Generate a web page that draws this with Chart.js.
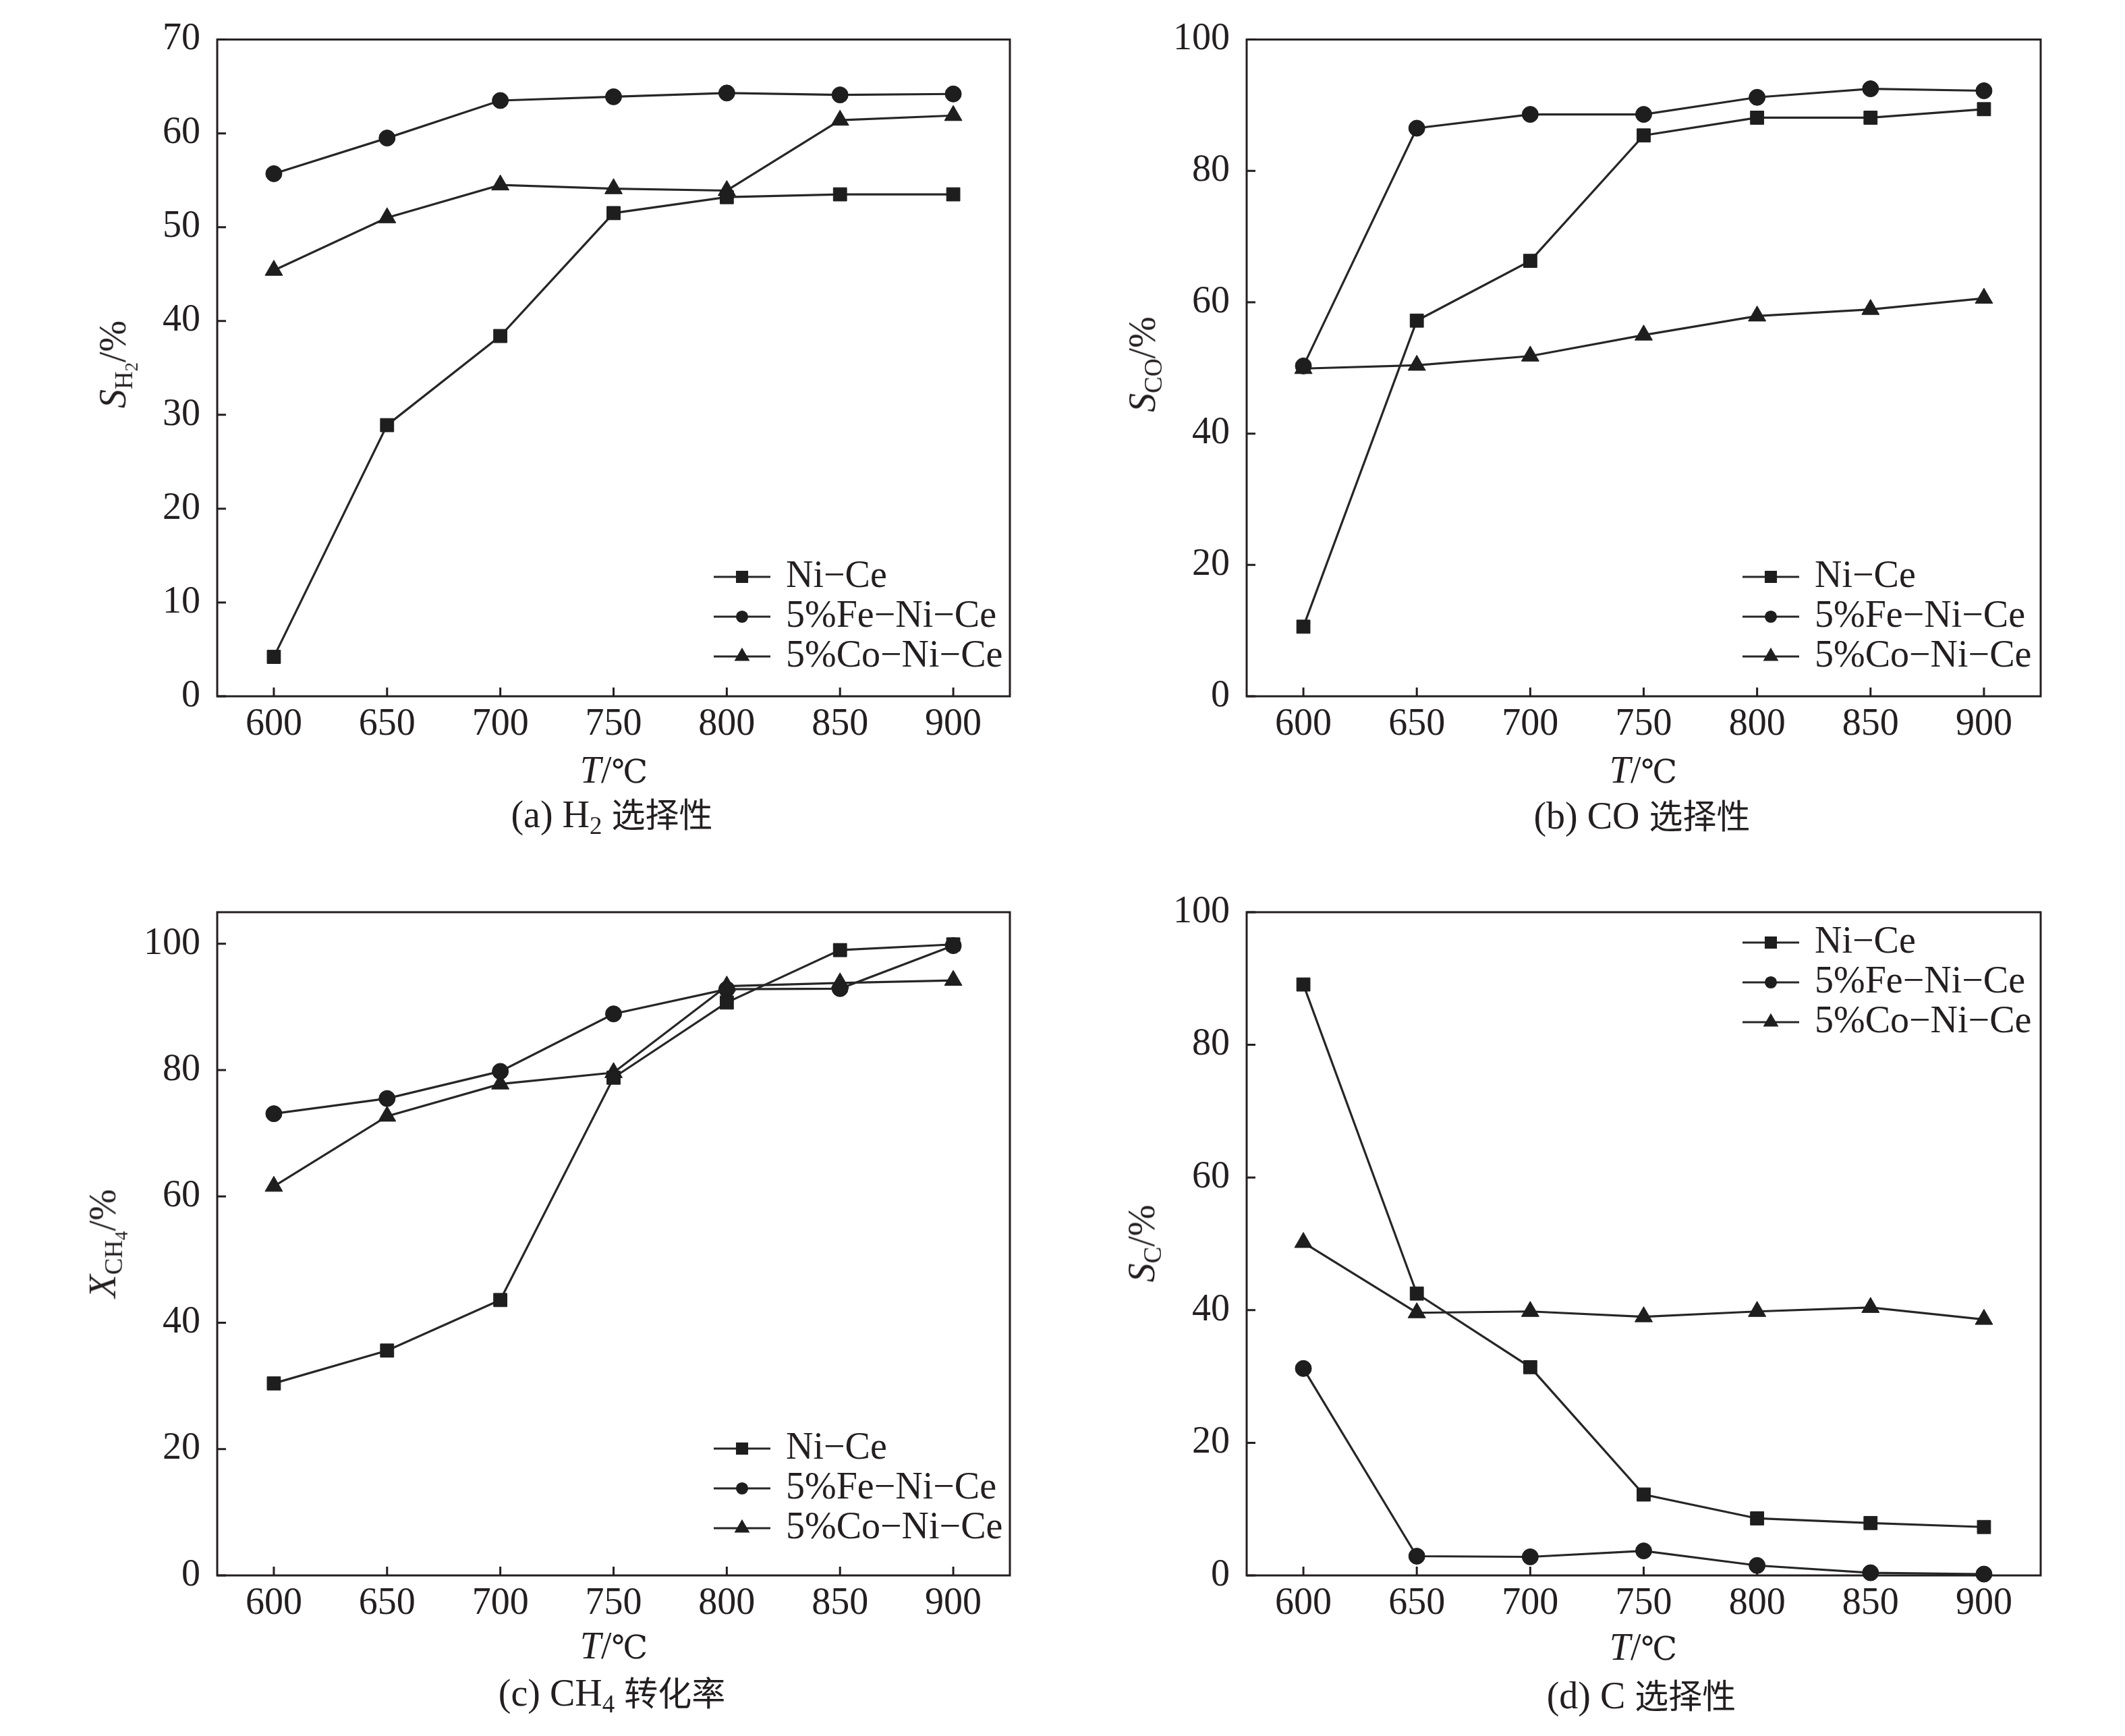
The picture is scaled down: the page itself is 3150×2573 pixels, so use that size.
<!DOCTYPE html>
<html>
<head>
<meta charset="utf-8">
<script src="https://cdn.jsdelivr.net/npm/chart.js@4.4.0/dist/chart.umd.min.js"></script>
<style>
  html, body { margin: 0; padding: 0; background: #fff; }
  body { width: 3150px; height: 2573px; position: relative; overflow: hidden;
         font-family: "Liberation Serif", "Noto Sans CJK SC", serif; color: #231f20; }
  .box { position: absolute; width: 1575px; height: 1290px; }
  .txt { position: absolute; white-space: nowrap; font-size: 56px; line-height: 1;
         transform: translate(-50%, -50%); }
  .ytl { transform: translate(-50%, -50%) rotate(-90deg); }
  .txt sub { font-size: 0.66em; vertical-align: -0.28em; line-height: 0; }
  .txt sub sub { font-size: 0.72em; vertical-align: -0.3em; }
  .zh { font-family: "Noto Sans CJK SC", sans-serif; font-size: 50px; }
  .deg { font-family: "DejaVu Serif", "Noto Sans CJK SC", serif; font-size: 48px; }
</style>
</head>
<body>

<div class="box" style="left:0;top:0"><canvas id="c-a" width="1575" height="1290"></canvas></div>
<div class="box" style="left:1575px;top:0"><canvas id="c-b" width="1575" height="1290"></canvas></div>
<div class="box" style="left:0;top:1290px"><canvas id="c-c" width="1575" height="1290"></canvas></div>
<div class="box" style="left:1575px;top:1290px"><canvas id="c-d" width="1575" height="1290"></canvas></div>

<!-- axis titles and captions -->
<div class="txt ytl" style="left:167px;top:540px"><i>S</i><sub>H<sub>2</sub></sub>/%</div>
<div class="txt ytl" style="left:1693px;top:540px"><i>S</i><sub>CO</sub>/%</div>
<div class="txt ytl" style="left:152px;top:1843px"><i>X</i><sub>CH<sub>4</sub></sub>/%</div>
<div class="txt ytl" style="left:1692px;top:1843px"><i>S</i><sub>C</sub>/%</div>

<div class="txt" style="left:910px;top:1141px"><i>T</i>/<span class="deg">℃</span></div>
<div class="txt" style="left:2436px;top:1141px"><i>T</i>/<span class="deg">℃</span></div>
<div class="txt" style="left:910px;top:2439px"><i>T</i>/<span class="deg">℃</span></div>
<div class="txt" style="left:2436px;top:2441px"><i>T</i>/<span class="deg">℃</span></div>

<div class="txt" style="left:907px;top:1207px">(a) H<sub>2</sub> <span class="zh">选择性</span></div>
<div class="txt" style="left:2434px;top:1209px">(b) CO <span class="zh">选择性</span></div>
<div class="txt" style="left:907px;top:2509px">(c) CH<sub>4</sub> <span class="zh">转化率</span></div>
<div class="txt" style="left:2433px;top:2513px">(d) C <span class="zh">选择性</span></div>

<script>
// ---- data ----
var temps = [600, 650, 700, 750, 800, 850, 900];
var xTicks = [600, 650, 700, 750, 800, 850, 900];
var seriesNames = ['Ni\u2212Ce', '5%Fe\u2212Ni\u2212Ce', '5%Co\u2212Ni\u2212Ce'];

// (a) H2 selectivity
var h2NiCe = [4.2, 28.9, 38.4, 51.5, 53.2, 53.5, 53.5];
var h2Fe   = [55.7, 59.5, 63.5, 63.9, 64.3, 64.1, 64.2];
var h2Co   = [45.4, 51.0, 54.5, 54.1, 53.9, 61.4, 61.9];
var h2Ticks = [0, 10, 20, 30, 40, 50, 60, 70];

// (b) CO selectivity
var coNiCe = [10.6, 57.2, 66.3, 85.4, 88.1, 88.1, 89.4];
var coFe   = [50.3, 86.5, 88.6, 88.6, 91.2, 92.5, 92.2];
var coCo   = [49.9, 50.4, 51.8, 55.0, 57.9, 58.9, 60.6];
var coTicks = [0, 20, 40, 60, 80, 100];

// (c) CH4 conversion
var ch4NiCe = [30.4, 35.6, 43.6, 78.8, 90.7, 99.0, 99.9];
var ch4Fe   = [73.1, 75.5, 79.8, 88.9, 92.8, 92.9, 99.7];
var ch4Co   = [61.6, 72.7, 77.8, 79.6, 93.3, 93.8, 94.2];
var ch4Ticks = [0, 20, 40, 60, 80, 100];

// (d) C selectivity
var cNiCe = [89.1, 42.5, 31.4, 12.2, 8.6, 7.9, 7.3];
var cFe   = [31.2, 2.9, 2.8, 3.7, 1.5, 0.4, 0.2];
var cCo   = [50.2, 39.6, 39.8, 39.0, 39.8, 40.4, 38.6];
var cTicks = [0, 20, 40, 60, 80, 100];

var ink = '#231f20';
var lineInk = '#262626';
var tickFont = { family: '"Liberation Serif", serif', size: 56 };

var markers = [
    { style: 'rect', radius: 14, legendRadius: 10.5 },
    { style: 'circle', radius: 12, legendRadius: 7.5 },
    { style: 'triangle', radius: 15, legendRadius: 10 },
];

function toPoints(values) {
    return values.map(function (v, i) {
        return { x: temps[i], y: v };
    });
}

function drawMarker(ctx, style, r, x, y) {
    if (Chart.helpers && Chart.helpers.drawPoint) {
        Chart.helpers.drawPoint(ctx, { pointStyle: style, radius: r, rotation: 0, borderWidth: 1 }, x, y);
        return;
    }
    ctx.beginPath();
    ctx.arc(x, y, r, 0, Math.PI * 2);
    ctx.fill();
}

// frame + inward ticks, drawn from the scales
var framePlugin = {
    id: 'frame',
    beforeDatasetsDraw: function (chart) {
        var ctx = chart.ctx;
        var a = chart.chartArea;
        var xs = chart.scales.x;
        var ys = chart.scales.y;

        ctx.save();
        ctx.strokeStyle = ink;
        ctx.lineWidth = 3;
        ctx.strokeRect(a.left, a.top, a.right - a.left, a.bottom - a.top);

        ctx.beginPath();
        xs.ticks.forEach(function (t) {
            var px = xs.getPixelForValue(t.value);
            ctx.moveTo(px, a.bottom);
            ctx.lineTo(px, a.bottom - 13);
        });
        ys.ticks.forEach(function (t) {
            var py = ys.getPixelForValue(t.value);
            ctx.moveTo(a.left, py);
            ctx.lineTo(a.left + 13, py);
        });
        ctx.stroke();
        ctx.restore();
    },
};

// legend: line sample + marker + label
var legendPlugin = {
    id: 'sampleLegend',
    afterDatasetsDraw: function (chart, args, opts) {
        var ctx = chart.ctx;
        ctx.save();
        chart.data.datasets.forEach(function (ds, i) {
            var y = opts.y + i * opts.gap;
            ctx.strokeStyle = ds.borderColor;
            ctx.lineWidth = ds.borderWidth;
            ctx.beginPath();
            ctx.moveTo(opts.x, y);
            ctx.lineTo(opts.x + 84, y);
            ctx.stroke();

            ctx.fillStyle = ds.pointBackgroundColor;
            ctx.strokeStyle = ds.pointBorderColor;
            drawMarker(ctx, ds.pointStyle, markers[i].legendRadius, opts.x + 42, y);

            ctx.fillStyle = ink;
            ctx.font = '56px "Liberation Serif", serif';
            ctx.textAlign = 'left';
            ctx.textBaseline = 'middle';
            ctx.fillText(ds.label, opts.x + 107, y);
        });
        ctx.restore();
    },
};

function makePanel(id, box, yTicks, yMax, rows, legend) {
    var canvas = document.getElementById(id);
    var context = canvas.getContext('2d');

    var sets = rows.map(function (values, index) {
        return {
            'label': seriesNames[index],
            'data': toPoints(values),
            'borderColor': lineInk,
            'borderWidth': 3.2,
            'pointStyle': markers[index].style,
            'pointRadius': markers[index].radius,
            'pointBackgroundColor': '#1e1e1e',
            'pointBorderColor': '#1e1e1e',
            'pointBorderWidth': 1,
            'tension': 0,
            'clip': false,
        };
    });

    return new Chart(context, {
        type: 'line',
        data: { 'datasets': sets },
        options: {
            responsive: false,
            animation: false,
            devicePixelRatio: 1,
            layout: { padding: { top: box.top, right: box.right, left: 0, bottom: 0 } },
            plugins: {
                legend: { display: false },
                tooltip: { enabled: false },
                sampleLegend: legend,
            },
            scales: {
                x: {
                    type: 'linear',
                    min: 575,
                    max: 925,
                    afterBuildTicks: function (s) {
                        s.ticks = xTicks.map(function (v) { return { value: v }; });
                    },
                    afterFit: function (s) { s.height = 1290 - box.bottom; },
                    grid: { display: false, drawTicks: false },
                    border: { display: false },
                    ticks: { padding: 9, font: tickFont, color: ink, maxRotation: 0,
                             callback: function (v) { return String(v); } },
                },
                y: {
                    type: 'linear',
                    min: 0,
                    max: yMax,
                    afterBuildTicks: function (s) {
                        s.ticks = yTicks.map(function (v) { return { value: v }; });
                    },
                    afterFit: function (s) { s.width = box.left; },
                    grid: { display: false, drawTicks: false },
                    border: { display: false },
                    ticks: { padding: 25, font: tickFont, color: ink,
                             callback: function (v) { return String(v); } },
                },
            },
        },
        plugins: [framePlugin, legendPlugin],
    });
}

makePanel('c-a', { left: 322, top: 47, right: 78, bottom: 1032 }, h2Ticks, 70,
    [h2NiCe, h2Fe, h2Co], { x: 1058, y: 855, gap: 59 });

makePanel('c-b', { left: 273, top: 47, right: 125, bottom: 1032 }, coTicks, 100,
    [coNiCe, coFe, coCo], { x: 1008, y: 855, gap: 59 });

makePanel('c-c', { left: 322, top: 62, right: 78, bottom: 1045 }, ch4Ticks, 105,
    [ch4NiCe, ch4Fe, ch4Co], { x: 1058, y: 857, gap: 59 });

makePanel('c-d', { left: 273, top: 62, right: 125, bottom: 1045 }, cTicks, 100,
    [cNiCe, cFe, cCo], { x: 1008, y: 107, gap: 59 });
</script>
</body>
</html>
